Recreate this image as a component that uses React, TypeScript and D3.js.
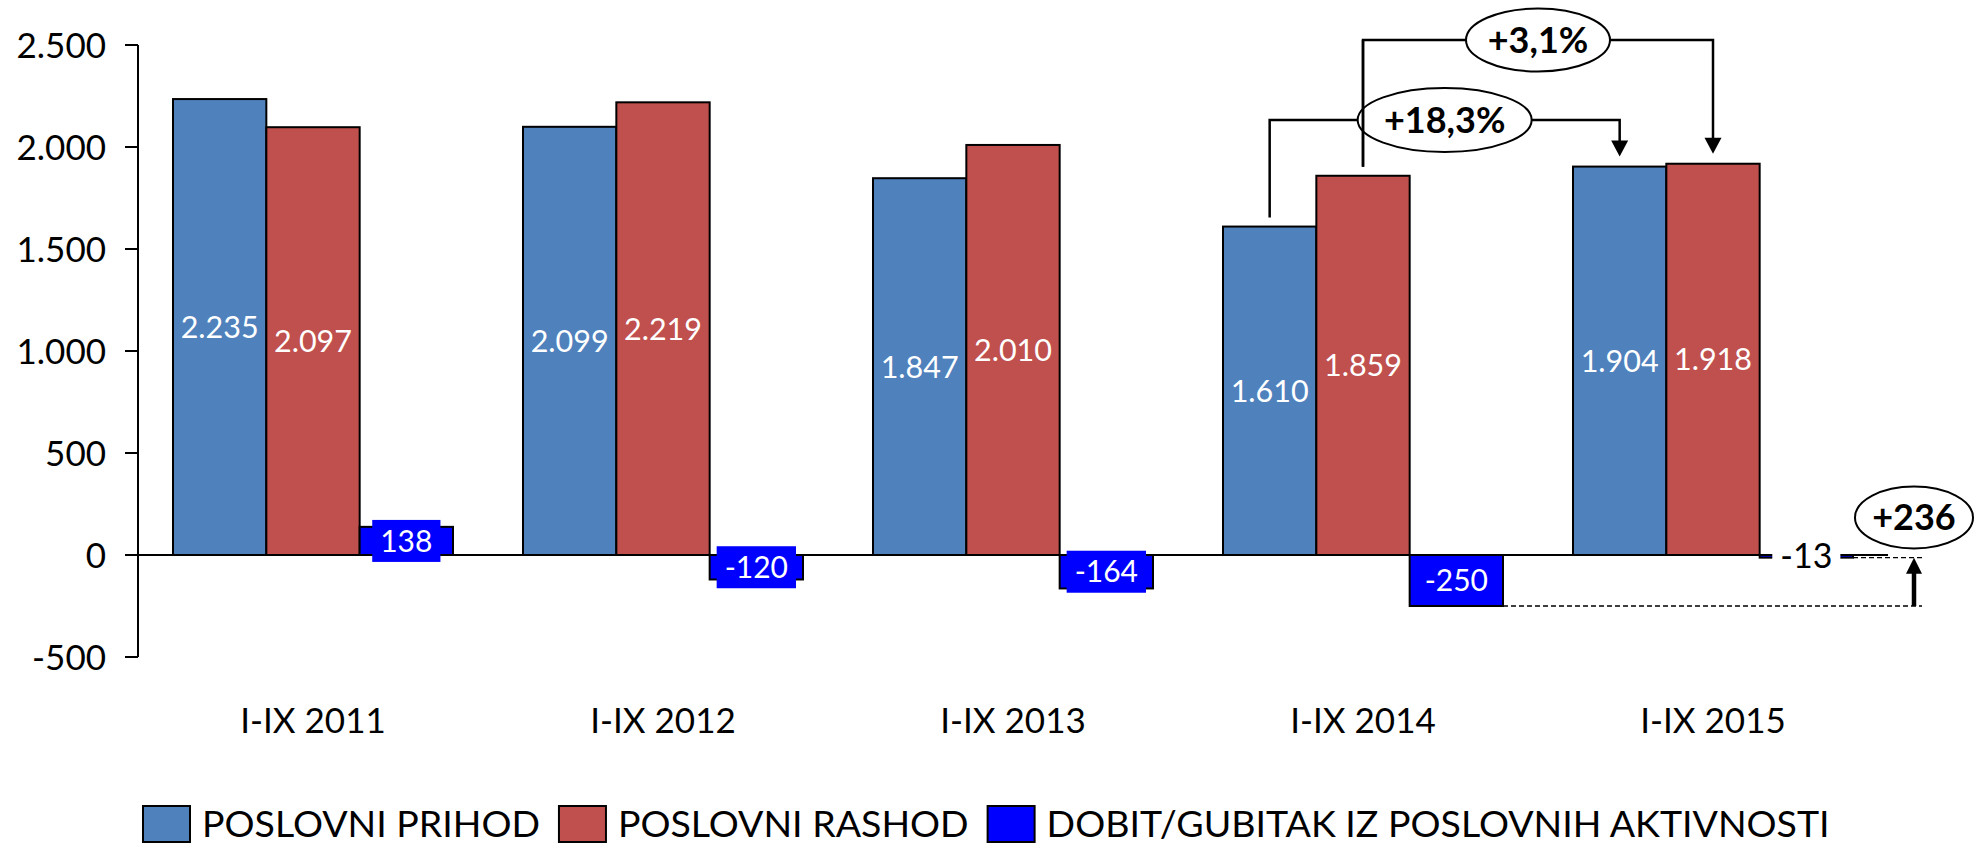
import React from "react";
import * as d3 from "d3";

// ---- data ----
const categories = ["I-IX 2011", "I-IX 2012", "I-IX 2013", "I-IX 2014", "I-IX 2015"];
const seriesNames = ["POSLOVNI PRIHOD", "POSLOVNI RASHOD", "DOBIT/GUBITAK IZ POSLOVNIH AKTIVNOSTI"];
const prihod = [2235, 2099, 1847, 1610, 1904];
const rashod = [2097, 2219, 2010, 1859, 1918];
const dobit = [138, -120, -164, -250, -13];
const yTicks = [-500, 0, 500, 1000, 1500, 2000, 2500];
const growthLabels = ["+18,3%", "+3,1%"];
const profitChangeLabel = "+236";

const colors = ["#4F81BD", "#C0504D", "#0000FF"];
const FONT = "Lato, Carlito, Calibri, 'Open Sans', sans-serif";

const locale = d3.formatLocale({
  decimal: ",",
  thousands: ".",
  grouping: [3],
  currency: ["", ""],
  minus: "-",
});
const fmt = locale.format(",d");

let _ctx: CanvasRenderingContext2D | null = null;
function textWidth(t: string, font: string) {
  if (!_ctx) _ctx = document.createElement("canvas").getContext("2d");
  if (!_ctx) return t.length * 15;
  _ctx.font = font;
  return _ctx.measureText(t).width;
}

export default function App() {
  const W = 1981, H = 845;
  const plotL = 138, plotR = 1888;
  const y = d3.scaleLinear().domain([-500, 2500]).range([657, 45]);
  const x0 = d3.scaleBand<string>().domain(categories).range([plotL, plotR]);
  const x1 = d3
    .scaleBand<number>()
    .domain([0, 1, 2])
    .range([0, x0.bandwidth()])
    .paddingOuter(0.375);
  const bw = x1.bandwidth();
  const series = [prihod, rashod, dobit];
  const y0 = y(0);

  const barX = (s: number, c: number) => (x0(categories[c]) as number) + (x1(s) as number);
  const barCx = (s: number, c: number) => barX(s, c) + bw / 2;
  const barTop = (s: number, c: number) => y(Math.max(0, series[s][c]));

  const valFs = 30.5;
  const profFs = 30;
  const tickFs = 35;
  const annFs = 36;
  const lastFs = 34;

  // growth annotations layout
  const ann = [
    { s: 0, from: 3, to: 4, level: 120, rx: 87, ry: 32, label: growthLabels[0] },
    { s: 1, from: 3, to: 4, level: 40, rx: 72, ry: 31.5, label: growthLabels[1] },
  ];

  const arrowX = plotR + 26;
  const yA = y(dobit[3]);
  const yB = y(dobit[4]);

  // legend layout
  const legFs = 37.5;
  const legFont = `${legFs}px ${FONT}`;
  let lx = 143;
  const legendItems = seriesNames.map((n, i) => {
    const item = { x: lx, name: n, color: colors[i] };
    lx += 47 + 12 + textWidth(n, legFont) + 19;
    return item;
  });

  return (
    <svg
      width={W}
      height={H}
      style={{ position: "absolute", left: 0, top: 0, background: "#fff" }}
      fontFamily={FONT}
    >
      <rect x={0} y={0} width={W} height={H} fill="#fff" />
      {/* bars */}
      {series.map((vals, s) =>
        vals.map((v, c) => {
          const yy = y(Math.max(0, v));
          const h = Math.abs(y(v) - y0);
          return (
            <rect
              key={`b${s}-${c}`}
              x={barX(s, c)}
              y={yy}
              width={bw}
              height={Math.max(h, 0.5)}
              fill={colors[s]}
              stroke="#000"
              strokeWidth={2}
            />
          );
        })
      )}
      {/* zero line */}
      <line x1={plotL} x2={plotR} y1={y0} y2={y0} stroke="#000" strokeWidth={2} />
      {/* y axis */}
      <line x1={plotL} x2={plotL} y1={y(2500)} y2={y(-500)} stroke="#000" strokeWidth={2} />
      {yTicks.map((t) => (
        <g key={`t${t}`}>
          <line x1={plotL - 13} x2={plotL} y1={y(t)} y2={y(t)} stroke="#000" strokeWidth={2} />
          <text
            x={106}
            y={y(t) + tickFs * 0.358}
            fontSize={tickFs}
            textAnchor="end"
            fill="#000"
          >
            {fmt(t)}
          </text>
        </g>
      ))}
      {/* x labels */}
      {categories.map((c) => (
        <text
          key={c}
          x={(x0(c) as number) + x0.bandwidth() / 2}
          y={733}
          fontSize={tickFs}
          textAnchor="middle"
          fill="#000"
        >
          {c}
        </text>
      ))}
      {/* value labels for prihod/rashod */}
      {[0, 1].map((s) =>
        series[s].map((v, c) => (
          <text
            key={`v${s}-${c}`}
            x={barCx(s, c)}
            y={(y(v) + y0) / 2 + valFs * 0.358}
            fontSize={valFs}
            textAnchor="middle"
            fill="#fff"
          >
            {fmt(v)}
          </text>
        ))
      )}
      {/* profit labels */}
      {dobit.map((v, c) => {
        const cx = barCx(2, c);
        const cy = (y(v) + y0) / 2;
        const t = fmt(v);
        const last = c === dobit.length - 1;
        const fs = last ? lastFs : profFs;
        const tw = textWidth(t, `${fs}px ${FONT}`);
        return (
          <g key={`p${c}`}>
            <rect
              x={cx - tw / 2 - 8}
              y={cy - 21}
              width={tw + 16}
              height={42}
              fill={last ? "#fff" : colors[2]}
            />
            <text
              x={cx}
              y={cy + fs * 0.358}
              fontSize={fs}
              textAnchor="middle"
              fill={last ? "#000" : "#fff"}
            >
              {t}
            </text>
          </g>
        );
      })}
      {/* dashed guide lines */}
      <line
        x1={barX(2, 3) + bw}
        x2={arrowX + 8}
        y1={yA}
        y2={yA}
        stroke="#000"
        strokeWidth={1.3}
        strokeDasharray="5 3"
      />
      <line
        x1={barX(2, 4) + bw}
        x2={arrowX + 8}
        y1={yB}
        y2={yB}
        stroke="#000"
        strokeWidth={1.3}
        strokeDasharray="5 3"
      />
      {/* up arrow */}
      <line x1={arrowX} x2={arrowX} y1={yA} y2={yB + 14} stroke="#000" strokeWidth={4.5} />
      <path
        d={`M${arrowX},${yB} L${arrowX - 8},${yB + 16} L${arrowX + 8},${yB + 16} Z`}
        fill="#000"
      />
      <ellipse cx={arrowX} cy={517.5} rx={59} ry={31} fill="#fff" stroke="#000" strokeWidth={2} />
      <text
        x={arrowX}
        y={517.5 + annFs * 0.358}
        fontSize={annFs}
        fontWeight={700}
        textAnchor="middle"
        fill="#000"
      >
        {profitChangeLabel}
      </text>
      {/* growth annotations */}
      {ann.map((a, i) => {
        const xf = barCx(a.s, a.from);
        const xt = barCx(a.s, a.to);
        const yf = barTop(a.s, a.from) - 9;
        const yt = barTop(a.s, a.to) - 10;
        const cx = (xf + xt) / 2;
        return (
          <g key={`a${i}`}>
            <path
              d={`M${xf},${yf} L${xf},${a.level} L${cx - a.rx},${a.level}`}
              fill="none"
              stroke="#000"
              strokeWidth={2.5}
            />
            <path
              d={`M${cx + a.rx},${a.level} L${xt},${a.level} L${xt},${yt - 14}`}
              fill="none"
              stroke="#000"
              strokeWidth={2.5}
            />
            <path
              d={`M${xt},${yt} L${xt - 8.5},${yt - 16} L${xt + 8.5},${yt - 16} Z`}
              fill="#000"
            />
            <ellipse
              cx={cx}
              cy={a.level}
              rx={a.rx}
              ry={a.ry}
              fill="#fff"
              stroke="#000"
              strokeWidth={2}
            />
            <text
              x={cx}
              y={a.level + annFs * 0.358}
              fontSize={annFs}
              fontWeight={700}
              textAnchor="middle"
              fill="#000"
            >
              {a.label}
            </text>
          </g>
        );
      })}
      {/* vertical of upper annotation drawn over lower ellipse */}
      <line
        x1={barCx(1, 3)}
        x2={barCx(1, 3)}
        y1={ann[1].level}
        y2={barTop(1, 3) - 9}
        stroke="#000"
        strokeWidth={2.5}
      />
      {/* legend */}
      {legendItems.map((it, i) => (
        <g key={`l${i}`}>
          <rect x={it.x} y={806} width={47} height={36} fill={it.color} stroke="#000" strokeWidth={2} />
          <text x={it.x + 59} y={824 + legFs * 0.358} fontSize={legFs} fill="#000">
            {it.name}
          </text>
        </g>
      ))}
    </svg>
  );
}
